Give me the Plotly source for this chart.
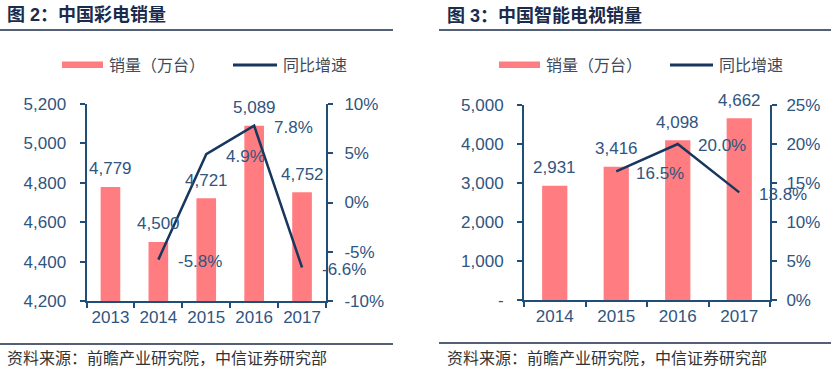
import plotly.graph_objects as go

# ---------------- data ----------------
years_tv = ["2013", "2014", "2015", "2016", "2017"]
sales_tv = [4779, 4500, 4721, 5089, 4752]
growth_tv = [None, -5.8, 4.9, 7.8, -6.6]

years_smart = ["2014", "2015", "2016", "2017"]
sales_smart = [2931, 3416, 4098, 4662]
growth_smart = [None, 16.5, 20.0, 13.8]

title_left = "图 2：中国彩电销量"
title_right = "图 3：中国智能电视销量"
legend_bar = "销量（万台）"
legend_line = "同比增速"
source_text = "资料来源：前瞻产业研究院，中信证券研究部"

left_ticks = [4200, 4400, 4600, 4800, 5000, 5200]
left_pct_ticks = [-10, -5, 0, 5, 10]
right_ticks = [0, 1000, 2000, 3000, 4000, 5000]
right_ticktext = ["-", "1,000", "2,000", "3,000", "4,000", "5,000"]
right_pct_ticks = [0, 5, 10, 15, 20, 25]

# ---------------- style ----------------
W, H = 831, 371
FONT = "Arial, 'Liberation Sans', 'Noto Sans CJK SC', sans-serif"
BAR = "#FF7C80"
LINE = "#17375E"
AXIS = "#1F4E79"
TICK = "#30557F"
DARK = "#1B2B4B"


def px(x):
    return x / W


def py(y):
    return 1 - y / H


fig = go.Figure()

# left chart
fig.add_trace(go.Bar(x=years_tv, y=sales_tv, marker_color=BAR, xaxis="x", yaxis="y",
                     showlegend=False, hoverinfo="skip"))
fig.add_trace(go.Scatter(x=years_tv, y=growth_tv, mode="lines", line=dict(color=LINE, width=2.5),
                         xaxis="x", yaxis="y2", showlegend=False, hoverinfo="skip"))
# right chart
fig.add_trace(go.Bar(x=years_smart, y=sales_smart, marker_color=BAR, xaxis="x2", yaxis="y3",
                     showlegend=False, hoverinfo="skip"))
fig.add_trace(go.Scatter(x=years_smart, y=growth_smart, mode="lines", line=dict(color=LINE, width=2.5),
                         xaxis="x2", yaxis="y4", showlegend=False, hoverinfo="skip"))

tickfont = dict(family=FONT, size=17, color=TICK)
common_axis = dict(showline=True, linecolor=AXIS, linewidth=2, ticks="outside", ticklen=5,
                   tickcolor=AXIS, tickwidth=2, showgrid=False, zeroline=False, tickfont=tickfont,
                   fixedrange=True, automargin=False)

ann = []
# data labels (category axes use the category index as coordinate)
for xref, yref, cats, vals in [("x", "y", years_tv, sales_tv), ("x2", "y3", years_smart, sales_smart)]:
    for i, v in enumerate(vals):
        ann.append(dict(x=i, y=v, xref=xref, yref=yref, text=f"{v:,}", showarrow=False,
                        yanchor="middle", xanchor="center", yshift=18,
                        font=dict(family=FONT, size=17, color=TICK)))
for xref, yref, cats, vals in [("x", "y2", years_tv, growth_tv), ("x2", "y4", years_smart, growth_smart)]:
    for i, v in enumerate(vals):
        if v is None:
            continue
        ann.append(dict(x=i, y=v, xref=xref, yref=yref, text=f"{v:.1f}%", showarrow=False,
                        yanchor="middle", xanchor="left", xshift=18, yshift=-2,
                        font=dict(family=FONT, size=17, color=TICK)))

shapes = []
for x0, title, lx0, lx1, sline in [(5, title_left, 0, 393, 344), (445, title_right, 439, 831, 343)]:
    ann.append(dict(x=px(x0), y=py(15), xref="paper", yref="paper", text=f"<b>{title}</b>",
                    showarrow=False, xanchor="left", yanchor="middle",
                    font=dict(family=FONT, size=18, color=DARK)))
    shapes.append(dict(type="line", xref="paper", yref="paper", x0=px(lx0), x1=px(lx1),
                       y0=py(30), y1=py(30), line=dict(color=DARK, width=1.5)))
    shapes.append(dict(type="line", xref="paper", yref="paper", x0=px(lx0), x1=px(lx1),
                       y0=py(sline), y1=py(sline), line=dict(color=DARK, width=1.5)))
    ann.append(dict(x=px(x0), y=py(358), xref="paper", yref="paper", text=source_text,
                    showarrow=False, xanchor="left", yanchor="middle",
                    font=dict(family=FONT, size=16, color="#333333")))

# legends
for rx0, rx1, tx1, lx0, lx1, tx2 in [(62, 103, 107, 233, 277, 281), (499, 540, 544, 670, 713, 717)]:
    shapes.append(dict(type="rect", xref="paper", yref="paper", x0=px(rx0), x1=px(rx1),
                       y0=py(68), y1=py(61.5), fillcolor=BAR, line=dict(width=0)))
    shapes.append(dict(type="line", xref="paper", yref="paper", x0=px(lx0), x1=px(lx1),
                       y0=py(65), y1=py(65), line=dict(color=LINE, width=3)))
    ann.append(dict(x=px(tx1), y=py(65), xref="paper", yref="paper", text=legend_bar,
                    showarrow=False, xanchor="left", yanchor="middle",
                    font=dict(family=FONT, size=16, color="#404A58")))
    ann.append(dict(x=px(tx2), y=py(65), xref="paper", yref="paper", text=legend_line,
                    showarrow=False, xanchor="left", yanchor="middle",
                    font=dict(family=FONT, size=16, color="#404A58")))

fig.update_layout(
    template="none",
    width=W, height=H, margin=dict(l=0, r=0, t=0, b=0, pad=0, autoexpand=False),
    paper_bgcolor="white", plot_bgcolor="white",
    bargap=0.59, showlegend=False,
    xaxis=dict(domain=[px(86.5), px(326)], anchor="y", type="category", tickson="boundaries",
               range=[-0.5, len(years_tv) - 0.5], tickangle=0, **common_axis),
    yaxis=dict(domain=[py(301), py(104)], anchor="x", range=[4200, 5200], tickmode="array",
               tickvals=left_ticks, ticktext=[f"{v:,}" for v in left_ticks],
               ticklabelstandoff=10, **common_axis),
    yaxis2=dict(overlaying="y", anchor="x", side="right", range=[-10, 10], tickmode="array",
                tickvals=left_pct_ticks, ticktext=[f"{v}%" for v in left_pct_ticks],
                ticklabelstandoff=8, **common_axis),
    xaxis2=dict(domain=[px(524), px(770)], anchor="y3", type="category", tickson="boundaries",
                range=[-0.5, len(years_smart) - 0.5], tickangle=0, **common_axis),
    yaxis3=dict(domain=[py(300), py(105)], anchor="x2", range=[0, 5000], tickmode="array",
                tickvals=right_ticks, ticktext=right_ticktext, ticklabelstandoff=10, **common_axis),
    yaxis4=dict(overlaying="y3", anchor="x2", side="right", range=[0, 25], tickmode="array",
                tickvals=right_pct_ticks, ticktext=[f"{v}%" for v in right_pct_ticks],
                ticklabelstandoff=6, **common_axis),
    annotations=ann, shapes=shapes,
)

fig.write_html("out.html", config={"displayModeBar": False},
               post_script="document.body.style.margin='0px';")
